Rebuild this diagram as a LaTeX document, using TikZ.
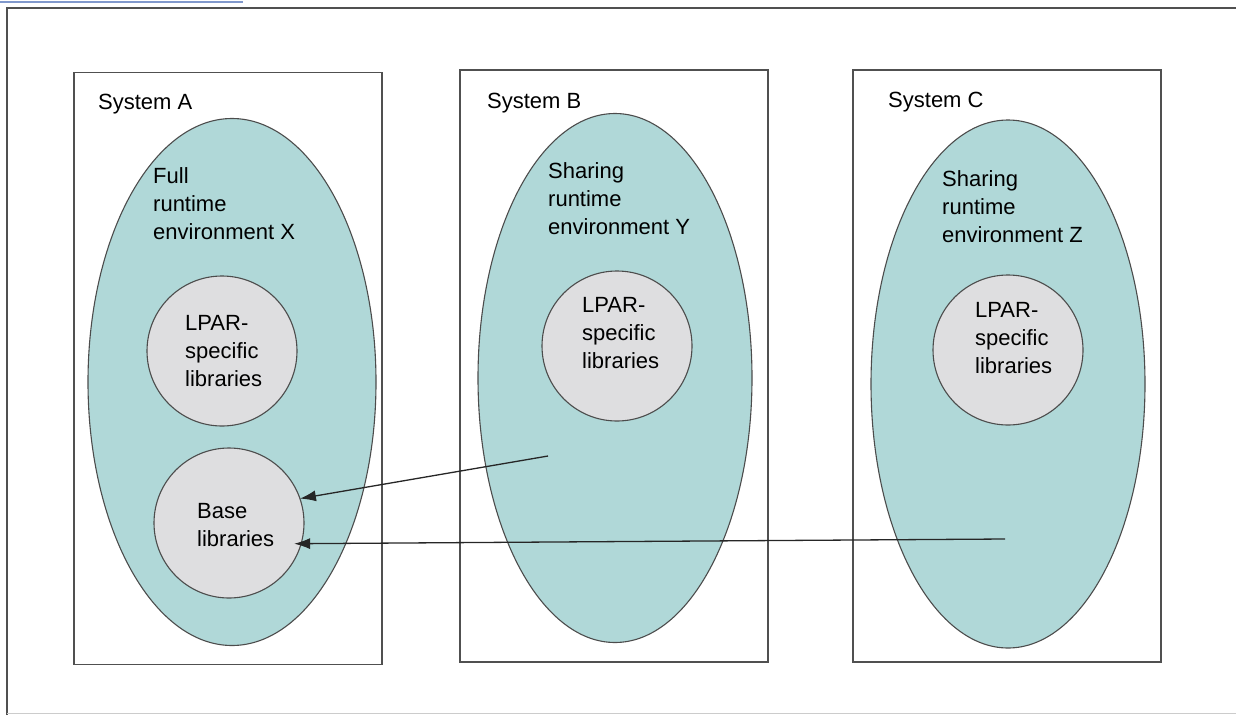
\documentclass[tikz,border=0pt]{standalone}
\usepackage{fontspec}
\setmainfont{Liberation Sans}
\usetikzlibrary{shapes.geometric}
\usetikzlibrary{arrows.meta}
\usetikzlibrary{positioning}
\definecolor{envteal}{RGB}{176,216,216}
\definecolor{libgray}{RGB}{222,222,224}
\definecolor{framegray}{RGB}{80,80,80}
\definecolor{linkblue}{RGB}{128,152,204}
\tikzset{SysBox/.style={draw=framegray, line width=1.8pt, minimum width=308pt, minimum height=592pt, inner sep=0pt, outer sep=0pt},
         Env/.style={ellipse, draw=black!70, line width=1.1pt, fill=envteal, inner sep=0pt, outer sep=0pt},
         Lib/.style={circle, draw=black!70, line width=1.1pt, fill=libgray, minimum size=150pt, inner sep=0pt, outer sep=0pt},
         Lbl/.style={anchor=north west, inner sep=0pt, align=left},
         Use/.style={-{Latex[length=16pt,width=11pt]}, line width=1.3pt, black!85}}

\begin{document}
\begin{tikzpicture}[x=1pt, y=-1pt, font=\fontsize{22}{28}\selectfont]
  \useasboundingbox (0,0) rectangle (1236,715);
  \draw[linkblue, line width=1.5pt] (0,2) -- (243,2);
  \draw[framegray, line width=2.8pt] (7,715) -- (7,8) -- (1236,8);
  \draw[black!20, line width=1pt] (7,713) -- (1236,713);
    \node[SysBox] (SysA) at (228,368.5) {};
    \node[SysBox] (SysB) at (614,366) {};
    \node[SysBox] (SysC) at (1007,366) {};
    \node[Env, minimum width=288pt, minimum height=527pt] (EnvX) at (232,382) {};
    \node[Env, minimum width=274pt, minimum height=529pt] (EnvY) at (615,378) {};
    \node[Env, minimum width=274pt, minimum height=528pt] (EnvZ) at (1008,384) {};
    \node[Lib] (LparA) at (222,351) {};
    \node[Lib] (BaseA) at (229,523) {};
    \node[Lib] (LparB) at (617,346) {};
    \node[Lib] (LparC) at (1008,350) {};
    \node[Lbl] (SysAtxt) at (98,94) {System A};
    \node[Lbl] (SysBtxt) at (487,93) {System B};
    \node[Lbl] (SysCtxt) at (888,92) {System C};
    \node[Lbl] (EnvXtxt) at (153,167) {Full\\runtime\\environment X};
    \node[Lbl] (EnvYtxt) at (548,162) {Sharing\\runtime\\environment Y};
    \node[Lbl] (EnvZtxt) at (942,170) {Sharing\\runtime\\environment Z};
    \node[Lbl] (LparAtxt) at (185,315) {LPAR-\\specific\\libraries};
    \node[Lbl] (LparBtxt) at (582,297) {LPAR-\\specific\\libraries};
    \node[Lbl] (LparCtxt) at (975,302) {LPAR-\\specific\\libraries};
    \node[Lbl] (BaseAtxt) at (197,503) {Base\\libraries};
    \coordinate (UseY) at (548,456);
    \coordinate (UseZ) at (1005,539);
  \path[Use]
    (UseY) edge (BaseA.19)
    (UseZ) edge[shorten >=-7pt] (BaseA.-16);
  \end{tikzpicture}
\end{document}
